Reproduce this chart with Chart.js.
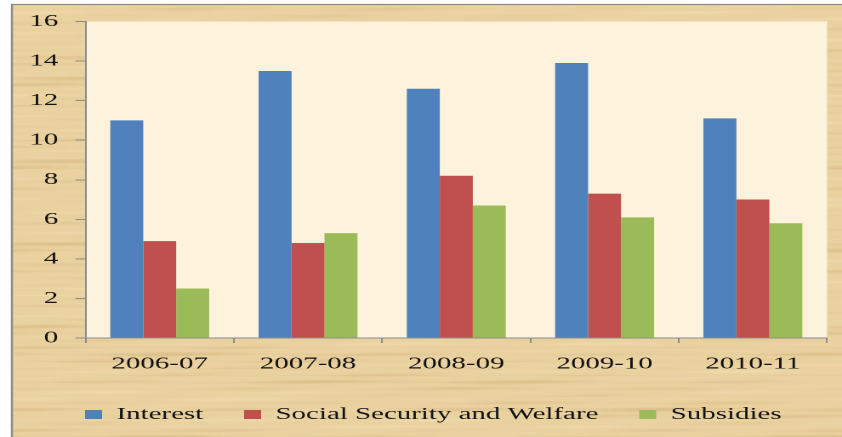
<!DOCTYPE html>
<html>
<head>
<meta charset="utf-8">
<script src="https://cdn.jsdelivr.net/npm/chart.js@4/dist/chart.umd.min.js"></script>
<style>
  html, body { margin: 0; padding: 0; background: #ffffff; overflow: hidden; }
  #wrap {
    position: absolute; left: 0; top: 0;
    width: 495px; height: 437px;
    transform: scaleX(1.70101);
    transform-origin: 0 0;
  }
</style>
</head>
<body>
<div id="wrap"><canvas id="chart" width="495" height="437"></canvas></div>
<script>
// Expenditure shares by year
const categories = ['2006-07', '2007-08', '2008-09', '2009-10', '2010-11'];
const interest = [11.0, 13.5, 12.6, 13.9, 11.1];
const socialSecurity = [4.9, 4.8, 8.2, 7.3, 7.0];
const subsidies = [2.5, 5.3, 6.7, 6.1, 5.8];
const seriesNames = ['Interest', 'Social Security and Welfare', 'Subsidies'];
const yMin = 0, yMax = 16, yStep = 2;

const FONT = "'Liberation Serif', 'Times New Roman', serif";
const INK = '#111111';
const AXIS = '#8c8c8c';

// Parchment texture built from layered sine streaks
function parchment(w, h) {
  const c = document.createElement('canvas');
  c.width = w; c.height = h;
  const g = c.getContext('2d');
  g.fillStyle = '#ead2a0';
  g.fillRect(0, 0, w, h);
  for (let y = 0; y < h; y++) {
    const v = Math.sin(y * 0.91) * 0.5 + Math.sin(y * 0.23 + 1.7) * 0.3 + Math.sin(y * 2.7) * 0.2;
    for (let x = 0; x < w; x += 5) {
      const u = Math.sin(x * 0.05 + y * 0.31) * 0.6 + Math.sin(x * 0.013 - y * 0.07) * 0.4;
      const t = v * 0.6 + u * 0.4;
      if (t > 0.2) {
        g.fillStyle = 'rgba(190,150,90,' + ((t - 0.2) * 0.45).toFixed(3) + ')';
        g.fillRect(x, y, 5, 1);
      } else if (t < -0.3) {
        g.fillStyle = 'rgba(250,236,200,' + ((-t - 0.3) * 0.6).toFixed(3) + ')';
        g.fillRect(x, y, 5, 1);
      }
    }
  }
  return c;
}

const backdrop = {
  id: 'backdrop',
  afterLayout(chart) {
    // legend row starts in line with the plot's left edge
    if (chart.legend) chart.legend.left = 26;
  },
  beforeDraw(chart) {
    const { ctx, width, height, chartArea } = chart;
    ctx.save();
    ctx.fillStyle = '#ffffff';
    ctx.fillRect(0, 0, width, height);
    if (!this.tex) this.tex = parchment(width, height);
    ctx.drawImage(this.tex, 7, 4.5, width - 7, height - 4.5, 7, 4.5, width - 7, height - 4.5);
    ctx.strokeStyle = '#8a8a8a';
    ctx.lineWidth = 1.2;
    ctx.beginPath();
    ctx.moveTo(7, height);
    ctx.lineTo(7, 4.5);
    ctx.lineTo(width, 4.5);
    ctx.stroke();
    ctx.fillStyle = '#fdf3dc';
    ctx.fillRect(chartArea.left, chartArea.top, chartArea.right - chartArea.left, chartArea.bottom - chartArea.top);
    ctx.restore();
  }
};

new Chart(document.getElementById('chart'), {
  type: 'bar',
  data: {
    labels: categories,
    datasets: [
      { label: seriesNames[0], data: interest, backgroundColor: '#4f81bd' },
      { label: seriesNames[1], data: socialSecurity, backgroundColor: '#c0504d' },
      { label: seriesNames[2], data: subsidies, backgroundColor: '#9bbb59' }
    ]
  },
  options: {
    responsive: false,
    animation: false,
    devicePixelRatio: 2,
    layout: { padding: { left: 7, right: 8.8, top: 21.5, bottom: 4 } },
    datasets: { bar: { categoryPercentage: 0.667, barPercentage: 1.0, borderWidth: 0 } },
    plugins: {
      tooltip: { enabled: false },
      legend: {
        position: 'bottom',
        align: 'start',
        labels: {
          font: { family: FONT, size: 17 },
          color: INK,
          boxWidth: 10,
          boxHeight: 9,
          padding: 24
        }
      }
    },
    scales: {
      x: {
        grid: { offset: true, drawOnChartArea: false, tickLength: 5, color: AXIS },
        border: { color: AXIS, width: 1 },
        ticks: { font: { family: FONT, size: 17 }, color: INK, padding: 11 },
        afterFit(scale) { scale.height = 44; }
      },
      y: {
        min: yMin, max: yMax,
        grid: { drawOnChartArea: false, tickLength: 6, color: AXIS },
        border: { color: AXIS, width: 1 },
        ticks: { stepSize: yStep, font: { family: FONT, size: 17 }, color: INK, padding: 10 },
        afterFit(scale) { scale.width = 43.3; }
      }
    }
  },
  plugins: [backdrop]
});
</script>
</body>
</html>
